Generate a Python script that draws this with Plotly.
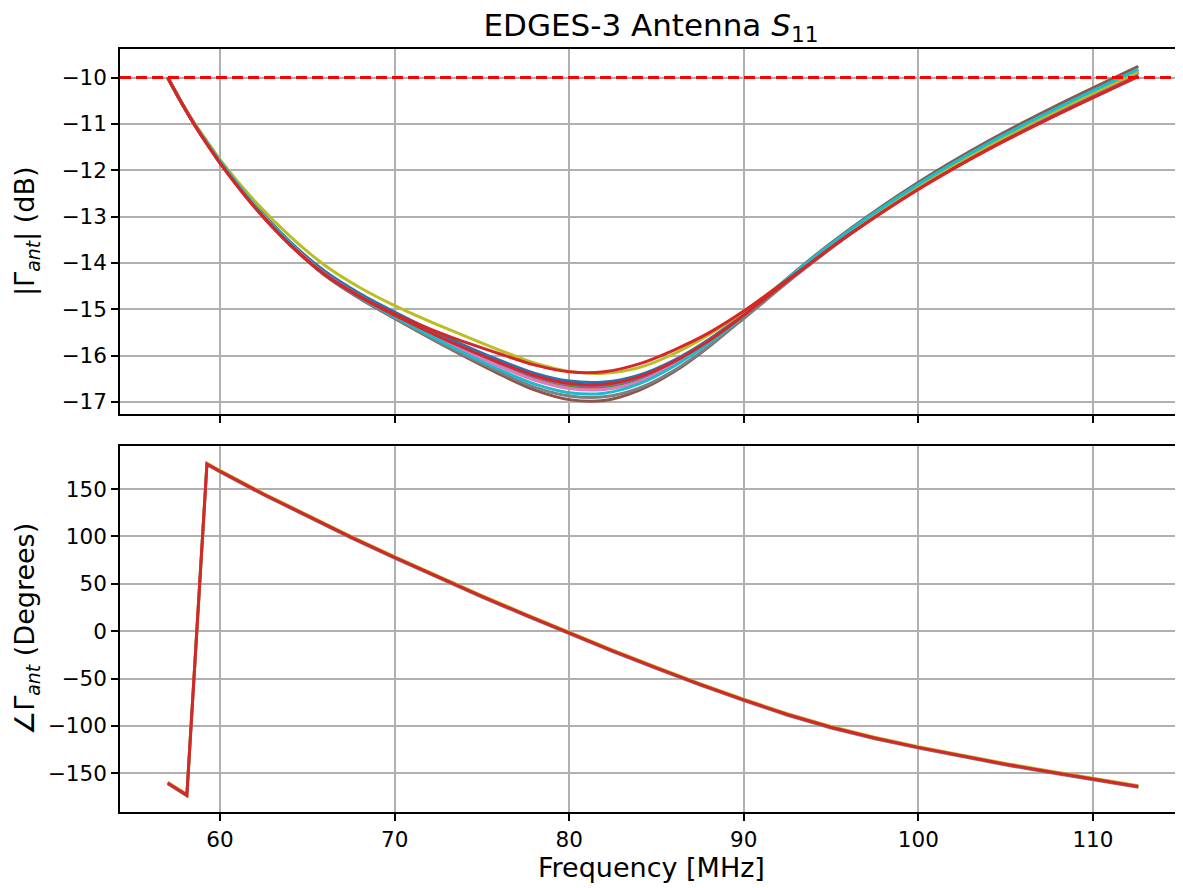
import plotly.graph_objects as go
from plotly.subplots import make_subplots

# ---------------- data ----------------
freq_mag = [57, 57.75, 58.5, 59.25, 60, 62, 64, 66, 68, 70, 73, 76, 78, 80, 82, 84, 86, 88, 90, 93, 96, 100, 104, 108, 112.6]

mag_blue   = [-10.00, -10.51, -10.98, -11.40, -11.80, -12.74, -13.54, -14.18, -14.66, -15.06, -15.61, -16.10, -16.38, -16.55, -16.57, -16.42, -16.10, -15.65, -15.10, -14.19, -13.34, -12.34, -11.47, -10.71, -9.89]
mag_orange = [-10.00, -10.51, -10.98, -11.41, -11.82, -12.78, -13.58, -14.24, -14.72, -15.13, -15.69, -16.19, -16.49, -16.67, -16.69, -16.52, -16.17, -15.70, -15.13, -14.21, -13.35, -12.35, -11.47, -10.70, -9.88]
mag_green  = [-10.00, -10.51, -10.98, -11.40, -11.81, -12.77, -13.57, -14.23, -14.71, -15.12, -15.67, -16.17, -16.46, -16.64, -16.66, -16.50, -16.16, -15.69, -15.12, -14.20, -13.34, -12.34, -11.47, -10.71, -9.89]
mag_purple = [-10.00, -10.51, -10.98, -11.40, -11.81, -12.76, -13.57, -14.23, -14.71, -15.12, -15.67, -16.16, -16.45, -16.62, -16.64, -16.48, -16.14, -15.68, -15.12, -14.21, -13.35, -12.35, -11.48, -10.72, -9.90]
mag_brown  = [-10.00, -10.51, -10.98, -11.40, -11.81, -12.78, -13.60, -14.27, -14.77, -15.20, -15.82, -16.40, -16.74, -16.95, -16.97, -16.75, -16.35, -15.81, -15.17, -14.17, -13.29, -12.26, -11.37, -10.59, -9.76]
mag_pink   = [-10.00, -10.51, -10.98, -11.40, -11.81, -12.77, -13.58, -14.24, -14.73, -15.15, -15.72, -16.23, -16.53, -16.71, -16.73, -16.56, -16.20, -15.72, -15.14, -14.20, -13.33, -12.32, -11.44, -10.68, -9.85]
mag_gray   = [-10.00, -10.51, -10.98, -11.40, -11.80, -12.77, -13.59, -14.26, -14.76, -15.19, -15.80, -16.35, -16.68, -16.87, -16.89, -16.70, -16.32, -15.80, -15.20, -14.27, -13.41, -12.40, -11.54, -10.79, -9.98]
mag_olive  = [-10.00, -10.50, -10.96, -11.37, -11.77, -12.67, -13.42, -14.05, -14.53, -14.92, -15.42, -15.88, -16.16, -16.34, -16.38, -16.26, -15.96, -15.55, -15.05, -14.20, -13.36, -12.35, -11.47, -10.70, -9.88]
mag_cyan   = [-10.00, -10.51, -10.98, -11.40, -11.80, -12.76, -13.58, -14.25, -14.74, -15.16, -15.76, -16.30, -16.61, -16.80, -16.81, -16.61, -16.23, -15.73, -15.14, -14.18, -13.31, -12.30, -11.42, -10.65, -9.82]
mag_red2   = [-10.00, -10.52, -11.00, -11.43, -11.84, -12.80, -13.60, -14.25, -14.73, -15.13, -15.67, -16.15, -16.43, -16.60, -16.62, -16.46, -16.13, -15.68, -15.13, -14.24, -13.40, -12.41, -11.55, -10.79, -9.97]
mag_red1   = [-10.00, -10.52, -11.00, -11.44, -11.85, -12.81, -13.61, -14.25, -14.72, -15.10, -15.57, -15.96, -16.20, -16.35, -16.35, -16.18, -15.88, -15.51, -15.04, -14.23, -13.40, -12.41, -11.55, -10.79, -9.97]

freq_phase = [57.0, 58.1, 59.25, 60, 62.5, 65, 67.5, 70, 72.5, 75, 77.5, 80, 82.5, 85, 87.5, 90, 92.5, 95, 97.5, 100, 102.5, 105, 107.5, 110, 112.6]
phase_olive = [-159.4, -172.1, 177.3, 169.6, 145.3, 122.3, 100.1, 78.6, 57.8, 37.6, 18.0, -1.0, -20.0, -38.0, -55.3, -71.7, -87.1, -100.5, -112.0, -121.8, -131.0, -139.6, -147.6, -155.1, -163.2]
phase_gray  = [-161.0, -173.7, 175.7, 168.0, 143.7, 120.7, 98.5, 77.0, 56.2, 36.0, 16.4, -2.6, -21.6, -39.6, -56.9, -73.3, -88.7, -102.1, -113.6, -123.4, -132.6, -141.2, -149.2, -156.7, -164.8]
phase_red   = [-160.2, -172.9, 176.5, 168.8, 144.5, 121.5, 99.3, 77.8, 57.0, 36.8, 17.2, -1.8, -20.8, -38.8, -56.1, -72.5, -87.9, -101.3, -112.8, -122.6, -131.8, -140.4, -148.4, -155.9, -164.0]

mag_series = [
    ("#1f77b4", mag_blue), ("#ff7f0e", mag_orange), ("#2ca02c", mag_green),
    ("#9467bd", mag_purple), ("#8c564b", mag_brown), ("#e377c2", mag_pink),
    ("#7f7f7f", mag_gray), ("#bcbd22", mag_olive), ("#17becf", mag_cyan),
    ("#d62728", mag_red2), ("#d62728", mag_red1),
]
phase_series = [("#bcbd22", phase_olive), ("#7f7f7f", phase_gray), ("#d62728", phase_red)]

x_ticks = [60, 70, 80, 90, 100, 110]
mag_ticks = [-17, -16, -15, -14, -13, -12, -11, -10]
phase_ticks = [-150, -100, -50, 0, 50, 100, 150]

# ---------------- geometry (page has an 8px body margin) ----------------
OFF = 8
W, H = 1175, 880
PL, PR, PT, PB = 120, 1182, 49, 812          # wanted plot-area edges on the page
ML, MR, MT, MB = PL - OFF, OFF + W - PR, PT - OFF, OFF + H - PB
PW, PH = PR - PL, PB - PT

fig = make_subplots(rows=2, cols=1, shared_xaxes=True)

for color, vals in mag_series:
    fig.add_trace(go.Scatter(x=freq_mag, y=vals, mode="lines",
                             line=dict(color=color, width=3, shape="spline", smoothing=0.8),
                             showlegend=False, hoverinfo="skip"), row=1, col=1)

for color, vals in phase_series:
    fig.add_trace(go.Scatter(x=freq_phase, y=vals, mode="lines",
                             line=dict(color=color, width=3),
                             showlegend=False, hoverinfo="skip"), row=2, col=1)

fig.add_hline(y=-10, line=dict(color="#ff0000", width=3, dash="11px,5px"), row=1, col=1)

FONT = "DejaVu Sans"
axis_common = dict(showline=True, mirror=True, linecolor="black", linewidth=1.6,
                   showgrid=True, gridcolor="#b0b0b0", gridwidth=1.6,
                   ticks="outside", ticklen=7, tickwidth=1.6, tickcolor="black",
                   zeroline=False, automargin=False,
                   tickfont=dict(family=FONT, size=21.5, color="black"))

fig.update_xaxes(**axis_common, range=[54.27, 115.1], tickvals=x_ticks)
fig.update_xaxes(showticklabels=False, row=1, col=1)
fig.update_yaxes(**axis_common)
fig.update_yaxes(range=[-17.26, -9.385], tickvals=mag_ticks, row=1, col=1)
fig.update_yaxes(range=[-190.8, 195.4], tickvals=phase_ticks, row=2, col=1)

label_font = dict(family=FONT, size=27, color="black")
annotations = [
    dict(text="Frequency [MHz]", x=0.5, xref="paper", y=(PB - 867) / PH, yref="paper",
         xanchor="center", yanchor="middle", showarrow=False, font=label_font),
    dict(text="|Γ<sub><i>ant</i></sub>| (dB)", x=(26 - PL) / PW, xref="paper",
         y=(PB - 231) / PH, yref="paper", textangle=-90,
         xanchor="center", yanchor="middle", showarrow=False, font=label_font),
    dict(text="∠Γ<sub><i>ant</i></sub> (Degrees)", x=(26 - PL) / PW, xref="paper",
         y=(PB - 629) / PH, yref="paper", textangle=-90,
         xanchor="center", yanchor="middle", showarrow=False, font=label_font),
]

fig.update_layout(
    width=W, height=H,
    margin=dict(l=ML, r=MR, t=MT, b=MB, autoexpand=False),
    paper_bgcolor="white", plot_bgcolor="white",
    title=dict(text="EDGES-3 Antenna <i>S</i><sub>11</sub>", x=0.5, xref="paper",
               y=1 - (25 - OFF) / H, yref="container", yanchor="middle",
               font=dict(family=FONT, size=31, color="black")),
    yaxis=dict(domain=[(PB - 414) / PH, 1.0]),
    yaxis2=dict(domain=[0.0, (PB - 446) / PH]),
    annotations=annotations,
)

fig.write_html("out.html")
